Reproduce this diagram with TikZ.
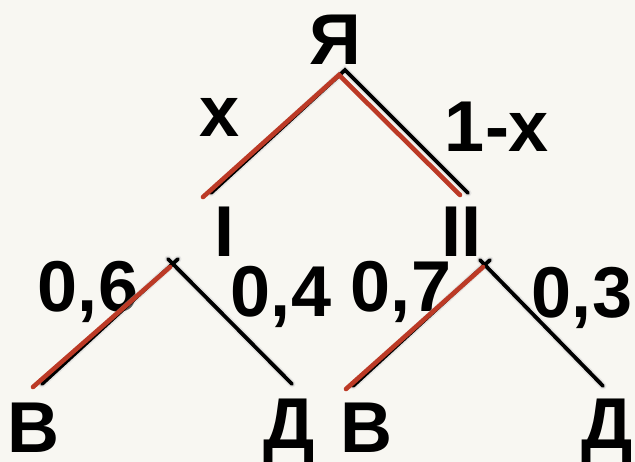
\documentclass[tikz,border=0pt]{standalone}
\usepackage{fontspec}
\setmainfont{Liberation Sans}
\definecolor{bgcol}{RGB}{248,247,242}
\definecolor{redline}{RGB}{188,58,38}
\begin{document}
\begin{tikzpicture}[x=1pt,y=-1pt,
  lbl/.style={anchor=base,inner sep=0pt,font=\fontsize{72}{72}\selectfont\bfseries},
  blk/.style={draw=black,line width=3.8pt,line cap=round},
  rdl/.style={draw=redline,line width=4.6pt,line cap=round},
  shd/.style={draw=black!18,line width=7pt,line cap=round,opacity=0.45}]
\fill[bgcol] (0,0) rectangle (635,462);
\useasboundingbox (0,0) rectangle (635,462);
% labels
\node[lbl] (ya) at (335,65) {Я};
\node[lbl] (px) at (220,137) {x};
\node[lbl] (p1x) at (497,152) {1-x};
\node[lbl] (n1) at (224.5,257) {I};
\node[lbl] (n2) at (461.5,257) {II};
\node[lbl] (p06) at (88,312) {0,6};
\node[lbl] (p04) at (281,317) {0,4};
\node[lbl] (p07) at (401,312) {0,7};
\node[lbl] (p03) at (582,318) {0,3};
\node[lbl] (v1) at (33.5,453) {В};
\node[lbl] (d1) at (289,449) {Д};
\node[lbl] (v2) at (366,453) {В};
\node[lbl] (d2) at (607,449) {Д};
% line end points
\coordinate (ta) at (345,70);
\coordinate (tl) at (211,193);
\coordinate (tr) at (468,193);
\coordinate (rta) at (339,75);
\coordinate (rtl) at (203,197);
\coordinate (rtr) at (460,195);
\coordinate (la1) at (178,259);
\coordinate (la2) at (168,259);
\coordinate (ll) at (42,384);
\coordinate (lr) at (292,384);
\coordinate (rla) at (170,267);
\coordinate (rll) at (33,387);
\coordinate (ra1) at (490,260);
\coordinate (ra2) at (480,260);
\coordinate (rl) at (353,386);
\coordinate (rr) at (603,386);
\coordinate (rra) at (483,267);
\coordinate (rrl) at (346,389);
% shadows
\begin{scope}[shift={(3,4)}]
\draw[shd] (tl) -- (ta) -- (tr);
\draw[shd] (ll) -- (la1);
\draw[shd] (la2) -- (lr);
\draw[shd] (rl) -- (ra1);
\draw[shd] (ra2) -- (rr);
\end{scope}
% black connectors
\draw[blk,line join=miter] (tl) -- (ta) -- (tr);
\draw[blk] (ll) -- (la1);
\draw[blk] (la2) -- (lr);
\draw[blk] (rl) -- (ra1);
\draw[blk] (ra2) -- (rr);
% red connectors
\draw[rdl] (rtl) -- (rta) -- (rtr);
\draw[rdl] (rll) -- (rla);
\draw[rdl] (rrl) -- (rra);
\end{tikzpicture}
\end{document}
